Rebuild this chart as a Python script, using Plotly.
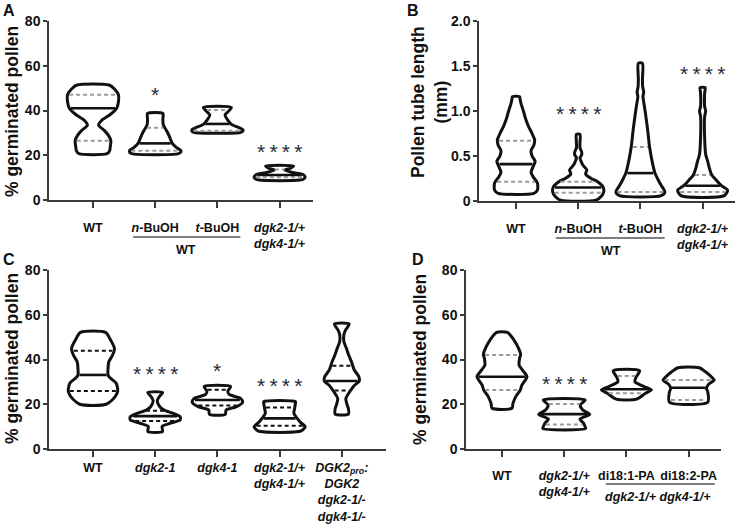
import numpy as np
import plotly.graph_objects as go

W, H = 737, 530
FONT = "Liberation Sans, Arial, sans-serif"

# ======================= DATA =======================
# ---- Panel A : % germinated pollen
A_categories = ["WT", "<i>n</i>-BuOH", "<i>t</i>-BuOH", "<i>dgk2-1/+</i><br><i>dgk4-1/+</i>"]
A_WT_y = [20.7, 22, 24, 26.5, 29, 31, 33.5, 36, 38, 41, 44, 47, 49.5, 51.4]
A_WT_w = [0.55, 0.65, 0.68, 0.7, 0.6, 0.45, 0.22, 0.38, 0.65, 0.93, 1.0, 1.0, 0.85, 0.63]
A_nBu_y = [20.6, 21.3, 22.2, 23.3, 25.3, 28.3, 30.5, 33.5, 36, 38.7]
A_nBu_w = [0.88, 1.0, 1.0, 0.85, 0.67, 0.56, 0.47, 0.32, 0.3, 0.3]
A_tBu_y = [30.2, 30.8, 31.4, 32.3, 33.8, 35.8, 38, 39.5, 41.4]
A_tBu_w = [0.9, 1.0, 1.0, 0.86, 0.55, 0.4, 0.3, 0.42, 0.55]
A_dgk_y = [8.9, 9.6, 10.4, 11.5, 12.3, 13.4, 14.3, 15.2]
A_dgk_w = [0.8, 0.97, 1.0, 0.9, 0.5, 0.2, 0.45, 0.55]
A_median = [41, 25.3, 34, 11.2]
A_q1 = [26.5, 22, 31, 10.2]
A_q3 = [47, 32.3, 40.2, 13.6]
A_stars = ["", "*", "", "****"]
A_star_y = [None, 49.2, None, 24.1]
A_yticks = [0, 20, 40, 60, 80]

# ---- Panel B : pollen tube length (mm)
B_categories = ["WT", "<i>n</i>-BuOH", "<i>t</i>-BuOH", "<i>dgk2-1/+</i><br><i>dgk4-1/+</i>"]
B_WT_y = [0.085, 0.12, 0.2, 0.27, 0.32, 0.38, 0.44, 0.5, 0.56, 0.62, 0.68, 0.75, 0.83, 0.92, 1.0, 1.08, 1.13, 1.16]
B_WT_w = [0.7, 0.84, 0.84, 0.67, 0.59, 0.67, 0.75, 0.63, 0.59, 0.7, 0.73, 0.63, 0.49, 0.37, 0.29, 0.2, 0.16, 0.14]
B_nBu_y = [0.01, 0.05, 0.1, 0.16, 0.215, 0.25, 0.3, 0.345, 0.4, 0.45, 0.48, 0.515, 0.55, 0.59, 0.65, 0.74]
B_nBu_w = [0.69, 0.9, 1.0, 0.97, 0.76, 0.51, 0.29, 0.34, 0.18, 0.1, 0.07, 0.14, 0.13, 0.07, 0.07, 0.07]
B_tBu_y = [0.06, 0.1, 0.18, 0.25, 0.31, 0.44, 0.6, 0.8, 0.99, 1.1, 1.16, 1.21, 1.27, 1.35, 1.53]
B_tBu_w = [0.82, 0.96, 0.8, 0.67, 0.57, 0.46, 0.36, 0.28, 0.19, 0.13, 0.1, 0.13, 0.09, 0.08, 0.08]
B_dgk_y = [0.06, 0.12, 0.17, 0.23, 0.29, 0.37, 0.44, 0.52, 0.7, 0.94, 1.0, 1.05, 1.2, 1.26]
B_dgk_w = [0.85, 0.98, 0.74, 0.54, 0.36, 0.26, 0.2, 0.12, 0.08, 0.08, 0.12, 0.08, 0.08, 0.1]
B_median = [0.41, 0.15, 0.31, 0.17]
B_q1 = [0.215, 0.092, 0.1, 0.1]
B_q3 = [0.67, 0.215, 0.6, 0.29]
B_stars = ["", "****", "", "****"]
B_star_y = [None, 1.03, None, 1.47]
B_yticks = [0, 0.5, 1.0, 1.5, 2.0]
B_yticktext = ["0", "0.5", "1.0", "1.5", "2.0"]

# ---- Panel C : % germinated pollen, mutants
C_categories = ["WT", "<i>dgk2-1</i>", "<i>dgk4-1</i>", "<i>dgk2-1/+</i><br><i>dgk4-1/+</i>",
                "<i>DGK2<sub>pro</sub>:</i><br><i>DGK2</i><br><i>dgk2-1/-</i><br><i>dgk4-1/-</i>"]
C_WT_y = [20, 23.4, 25.9, 29.4, 31.6, 33, 36, 39, 42, 45, 48.7, 52.1]
C_WT_w = [0.52, 0.87, 0.97, 0.91, 0.69, 0.59, 0.59, 0.62, 0.77, 0.84, 0.69, 0.49]
C_d2_y = [7.8, 10, 11.5, 13, 14.4, 15.9, 17.4, 18.9, 21.5, 23.4, 25.3]
C_d2_w = [0.29, 0.27, 0.59, 0.98, 0.98, 0.71, 0.35, 0.18, 0.08, 0.16, 0.29]
C_d4_y = [15.5, 17.4, 18.9, 20.9, 22.6, 24.4, 25.9, 27.9]
C_d4_w = [0.31, 0.34, 0.75, 0.99, 0.91, 0.46, 0.41, 0.52]
C_d24_y = [8.1, 10, 11.9, 13.7, 15.9, 18.2, 20.4, 21.2]
C_d24_w = [0.85, 1.0, 0.82, 0.69, 0.56, 0.59, 0.62, 0.62]
C_comp_y = [15.6, 18, 19.7, 22.6, 25.9, 28.3, 30.4, 32.3, 35.3, 39, 42, 45, 48, 51, 53.2, 55.9]
C_comp_w = [0.26, 0.26, 0.21, 0.16, 0.33, 0.48, 0.69, 0.67, 0.49, 0.38, 0.27, 0.18, 0.08, 0.08, 0.15, 0.29]
C_median = [33.1, 14.7, 21.9, 13.7, 30.4]
C_q1 = [25.9, 12.5, 19.4, 10.4, 26.1]
C_q3 = [43.9, 17.1, 26.5, 18.5, 37.2]
C_stars = ["", "****", "*", "****", ""]
C_star_y = [None, 36.2, 37.5, 30.4, None]
C_yticks = [0, 20, 40, 60, 80]

# ---- Panel D : % germinated pollen, PA rescue
D_categories = ["WT", "<i>dgk2-1/+</i><br><i>dgk4-1/+</i>", "di18:1-PA", "di18:2-PA"]
D_WT_y = [18.2, 20.4, 23.4, 26.4, 28.6, 32.3, 35, 37.5, 40.5, 42.3, 45, 48.7, 52.1]
D_WT_w = [0.39, 0.43, 0.54, 0.72, 0.78, 0.98, 0.82, 0.67, 0.69, 0.73, 0.65, 0.47, 0.21]
D_d24_y = [9.2, 10.5, 11.5, 13.4, 15.5, 17.4, 19.7, 21.9]
D_d24_w = [0.84, 0.8, 0.76, 0.62, 1.0, 0.73, 0.63, 0.82]
D_PA1_y = [22.3, 24.9, 26.4, 27.9, 30.1, 32.3, 35]
D_PA1_w = [0.4, 0.75, 0.98, 0.69, 0.33, 0.39, 0.52]
D_PA2_y = [20.9, 25.6, 27.1, 28.9, 30.8, 32.3, 34.6, 36.3]
D_PA2_w = [0.75, 0.75, 0.7, 0.78, 1.0, 0.89, 0.65, 0.42]
D_median = [32.3, 15.6, 26.7, 27.4]
D_q1 = [26.4, 11, 24.9, 21.9]
D_q3 = [42, 20.1, 32.6, 30.8]
D_stars = ["", "****", "", ""]
D_star_y = [None, 31.7, None, None]
D_yticks = [0, 20, 40, 60, 80]

# ======================= LAYOUT HELPERS =======================
def px_x(p):
    return p / W

def px_y(p):
    return 1 - p / H

SPACING = 62.2          # px between categories
HALF = 25.5 / SPACING   # max violin half width in category units
INK = "#111111"
AXIS = "#3a3a3a"
STAR = "#1f2b3d"
CAT_SIZE = 12.5

fig = go.Figure()


def add_violin(xa, ya, i, ys, ws, med, q1, q3, qcolor):
    ys = np.asarray(ys, float)
    ws = np.asarray(ws, float) * HALF
    x = np.concatenate([i + ws, (i - ws)[::-1], [i + ws[0]]])
    y = np.concatenate([ys, ys[::-1], [ys[0]]])
    fig.add_trace(go.Scatter(x=x, y=y, mode="lines", fill="toself", fillcolor="white",
                             line=dict(color=INK, width=3, shape="spline", smoothing=0.7),
                             xaxis=xa, yaxis=ya, hoverinfo="skip", showlegend=False))
    inset = 1.6 / SPACING
    for q, dash, col, lw in [(q1, "4px,3px", qcolor, 2), (q3, "4px,3px", qcolor, 2), (med, "solid", INK, 2.6)]:
        hw = max(np.interp(q, ys, ws) - inset, 0.01)
        fig.add_trace(go.Scatter(x=[i - hw, i + hw], y=[q, q], mode="lines",
                                 line=dict(color=col, width=lw, dash=dash),
                                 xaxis=xa, yaxis=ya, hoverinfo="skip", showlegend=False))


panels = [
    ("A", "x", "y", A_categories, [(A_WT_y, A_WT_w), (A_nBu_y, A_nBu_w), (A_tBu_y, A_tBu_w), (A_dgk_y, A_dgk_w)],
     A_median, A_q1, A_q3, "#9a9a9a", A_stars, A_star_y, (49, 313), (21, 200), 93, 9),
    ("B", "x2", "y2", B_categories, [(B_WT_y, B_WT_w), (B_nBu_y, B_nBu_w), (B_tBu_y, B_tBu_w), (B_dgk_y, B_dgk_w)],
     B_median, B_q1, B_q3, "#9a9a9a", B_stars, B_star_y, (479, 735), (21, 201), 516, 9),
    ("C", "x3", "y3", C_categories, [(C_WT_y, C_WT_w), (C_d2_y, C_d2_w), (C_d4_y, C_d4_w), (C_d24_y, C_d24_w), (C_comp_y, C_comp_w)],
     C_median, C_q1, C_q3, INK, C_stars, C_star_y, (49, 386), (270, 449), 93, 0),
    ("D", "x4", "y4", D_categories, [(D_WT_y, D_WT_w), (D_d24_y, D_d24_w), (D_PA1_y, D_PA1_w), (D_PA2_y, D_PA2_w)],
     D_median, D_q1, D_q3, "#9a9a9a", D_stars, D_star_y, (466, 721), (270, 449), 502, 8),
]

yranges = {"A": [0, 80], "B": [0, 2], "C": [0, 80], "D": [0, 80]}
yticks = {"A": (A_yticks, [str(v) for v in A_yticks]), "B": (B_yticks, B_yticktext),
          "C": (C_yticks, [str(v) for v in C_yticks]), "D": (D_yticks, [str(v) for v in D_yticks])}

annotations = []
shapes = []
layout_axes = {}

for (name, xa, ya, cats, profs, med, q1, q3, qcol, stars, stary, xpx, ypx, c0, standoff) in panels:
    for i, (ys, ws) in enumerate(profs):
        add_violin(xa, ya, i, ys, ws, med[i], q1[i], q3[i], qcol)
    for i, (s, sy) in enumerate(zip(stars, stary)):
        if s:
            annotations.append(dict(x=i, y=sy, xref=xa, yref=ya, text="\u2009".join(s), showarrow=False,
                                    yshift=-5, font=dict(family=FONT, size=21, color=STAR)))
    xr = [(xpx[0] - c0) / SPACING, (xpx[1] - c0) / SPACING]
    axkey = "xaxis" if xa == "x" else "xaxis" + xa[1:]
    aykey = "yaxis" if ya == "y" else "yaxis" + ya[1:]
    layout_axes[axkey] = dict(
        domain=[px_x(xpx[0]), px_x(xpx[1])], range=xr, anchor=ya, automargin=False,
        tickvals=list(range(len(cats))), ticktext=cats, tickangle=0,
        showgrid=False, zeroline=False, showline=True, linecolor=AXIS, linewidth=1.5,
        ticks="outside", ticklen=6, tickwidth=1.5, tickcolor=AXIS, ticklabelstandoff=standoff,
        tickfont=dict(family=FONT, size=CAT_SIZE, color=INK, weight="bold"), fixedrange=True)
    tv, tt = yticks[name]
    layout_axes[aykey] = dict(
        domain=[px_y(ypx[1]), px_y(ypx[0])], range=yranges[name], anchor=xa, automargin=False,
        tickvals=tv, ticktext=tt,
        showgrid=False, zeroline=False, showline=True, linecolor=AXIS, linewidth=1.5,
        ticks="outside", ticklen=4, tickwidth=1.5, tickcolor=AXIS,
        tickfont=dict(family=FONT, size=14, color=INK, weight="bold"), fixedrange=True)

# panel letters
for letter, (lx, ly) in zip("ABCD", [(9, 11), (413, 11), (9, 259), (418, 259)]):
    annotations.append(dict(x=px_x(lx), y=px_y(ly), xref="paper", yref="paper", text=letter,
                            showarrow=False, xanchor="center", yanchor="middle",
                            font=dict(family=FONT, size=16, color=INK, weight="bold")))

# y axis titles
for txt, (tx, ty) in [("% germinated pollen", (12, 112)),
                      ("Pollen tube length<br>(mm)", (430, 102)),
                      ("% germinated pollen", (12, 359)),
                      ("% germinated pollen", (420, 359))]:
    annotations.append(dict(x=px_x(tx), y=px_y(ty), xref="paper", yref="paper", text=txt, textangle=-90,
                            showarrow=False, xanchor="center", yanchor="middle",
                            font=dict(family=FONT, size=17.5, color=INK, weight="bold")))

# group brackets under categories
groups = [("x", 0.645, 2.37, 237, 1.5, 250, "WT"),
          ("x2", 0.64, 2.39, 238, 1.52, 251, "WT"),
          ("x4", 1.67, 3.42, 484, 2.5, 497, "<i>dgk2-1/+ dgk4-1/+</i>")]
for xa, g0, g1, gy, lx, ly, txt in groups:
    shapes.append(dict(type="line", xref=xa, yref="paper", x0=g0, x1=g1, y0=px_y(gy), y1=px_y(gy),
                       line=dict(color="#555555", width=1.5)))
    annotations.append(dict(x=lx, y=px_y(ly), xref=xa, yref="paper", text=txt, showarrow=False,
                            xanchor="center", yanchor="middle",
                            font=dict(family=FONT, size=CAT_SIZE, color=INK, weight="bold")))

fig.update_layout(
    template="none",
    width=W, height=H, margin=dict(l=0, r=0, t=0, b=0, autoexpand=False),
    paper_bgcolor="white", plot_bgcolor="white",
    showlegend=False, annotations=annotations, shapes=shapes,
    **layout_axes,
)

# remove the browser's default page margin so the 737x530 figure fills the window exactly
fig.write_html("out.html", config={"displayModeBar": False},
               post_script="document.body.style.margin='0';")
